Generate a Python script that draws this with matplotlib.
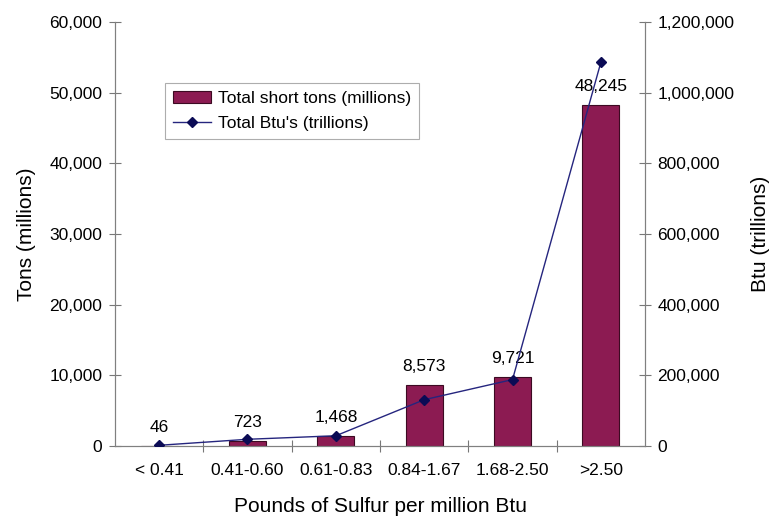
import matplotlib.pyplot as plt
from matplotlib.ticker import FuncFormatter

# sulfur content classes, tons per class and heat content per class
categories = ['< 0.41', '0.41-0.60', '0.61-0.83', '0.84-1.67', '1.68-2.50', '>2.50']
tons = [46, 723, 1468, 8573, 9721, 48245]
btu = [2000, 19000, 29000, 131000, 188000, 1086000]

plt.rcParams['font.family'] = ['Liberation Sans', 'DejaVu Sans']

fig = plt.figure(figsize=(7.69, 5.2), dpi=100)
ax = fig.add_axes([0.1495, 0.1423, 0.6893, 0.8154])
ax2 = ax.twinx()

x = list(range(len(categories)))
bars = ax.bar(x, tons, width=0.42, color='#8c1b52', edgecolor='#3c0a22',
              linewidth=0.8, label='Total short tons (millions)', zorder=2)
for xi, v in zip(x, tons):
    ax.annotate(f'{v:,}', (xi, v), xytext=(0, 8), textcoords='offset points',
                ha='center', va='bottom', fontsize=12.5)

line, = ax2.plot(x, btu, color='#25257e', linewidth=1.0, marker='D',
                 markersize=5, markerfacecolor='#0b0b55', markeredgecolor='#0b0b55',
                 label="Total Btu's (trillions)", zorder=3)

ax.set_xlim(-0.5, len(categories) - 0.5)
ax.set_ylim(0, 60000)
ax2.set_ylim(0, 1200000)
ax.set_yticks(range(0, 60001, 10000))
ax2.set_yticks(range(0, 1200001, 200000))
fmt = FuncFormatter(lambda v, p: f'{int(v):,}')
ax.yaxis.set_major_formatter(fmt)
ax2.yaxis.set_major_formatter(fmt)

# category ticks sit between the bars
ax.set_xticks([i + 0.5 for i in x[:-1]])
ax.set_xticklabels([])
ax.set_xticks(x, minor=True)
ax.set_xticklabels(categories, minor=True, fontsize=12.5)
ax.tick_params(axis='x', which='minor', length=0, pad=12)
ax.tick_params(axis='x', which='major', direction='inout', length=8, color='#777777')

for a in (ax, ax2):
    a.tick_params(axis='y', direction='inout', length=8, color='#777777',
                  labelsize=12.5, pad=5)
    for s in a.spines.values():
        s.set_color('#808080')
    a.spines['top'].set_visible(False)

ax.set_ylabel('Tons (millions)', fontsize=15, labelpad=10)
ax2.set_ylabel('Btu (trillions)', fontsize=15, labelpad=12)
ax.set_xlabel('Pounds of Sulfur per million Btu', fontsize=15, labelpad=14)

leg = ax.legend([bars, line], [bars.get_label(), line.get_label()],
                loc='upper left', bbox_to_anchor=(0.094, 0.855), borderaxespad=0,
                fontsize=12.5, frameon=True, fancybox=False, edgecolor='#999999',
                handlelength=2.2, handletextpad=0.4, borderpad=0.45,
                labelspacing=0.55)
leg.get_frame().set_linewidth(0.8)

fig.savefig('out.png', dpi=100)
